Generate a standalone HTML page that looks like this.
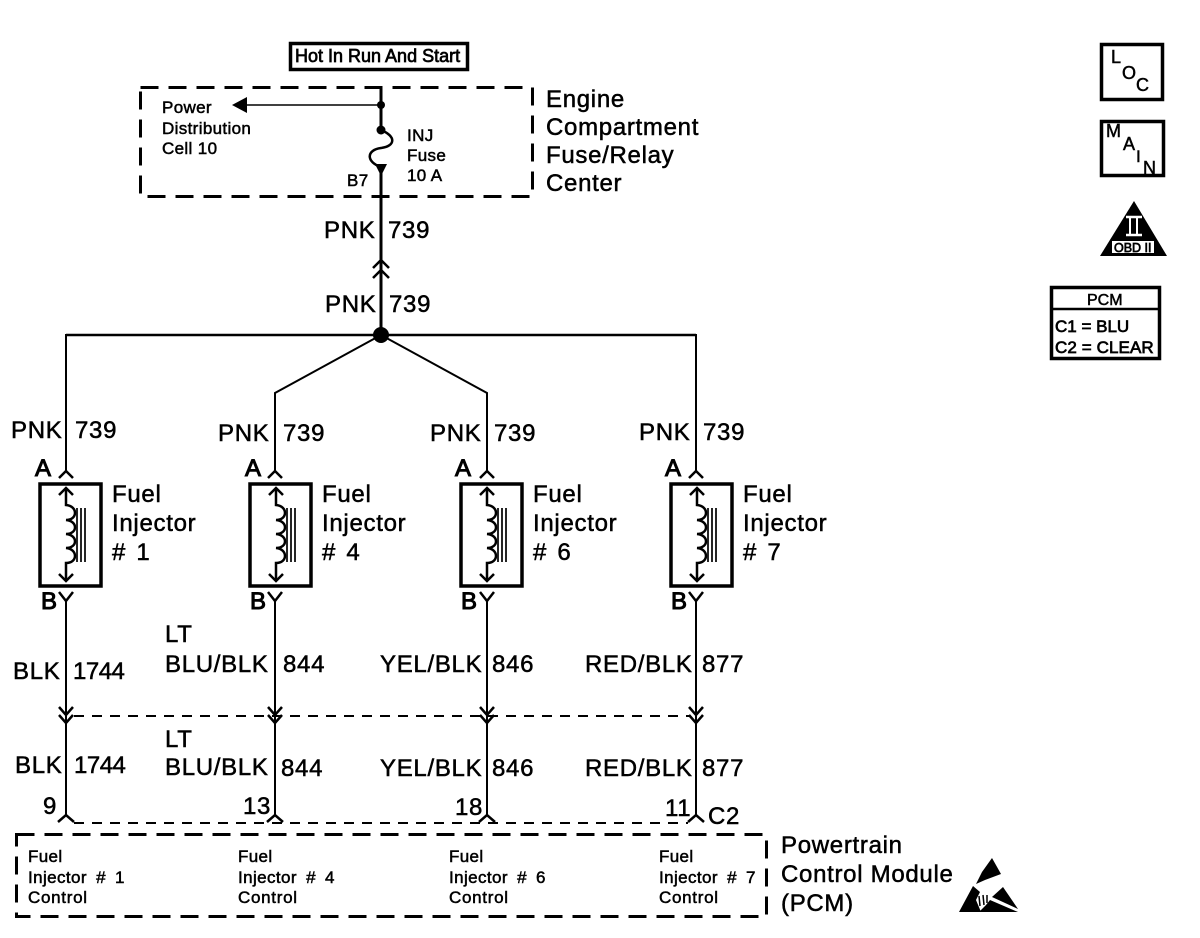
<!DOCTYPE html>
<html><head><meta charset="utf-8"><title>Fuel Injector Diagram</title>
<style>
html,body{margin:0;padding:0;background:#fff;width:1200px;height:938px;overflow:hidden}
svg{display:block}
text{font-family:"Liberation Sans",sans-serif;fill:#000;stroke:#000;stroke-width:.5}
.l{font-size:24px;letter-spacing:.7px}
.h{font-size:24px;letter-spacing:.7px;word-spacing:3px}
.n{font-size:24px;letter-spacing:-.5px}
.s{font-size:17px;letter-spacing:.35px}
.c{font-size:17px;letter-spacing:.7px}
.j{font-size:17px;letter-spacing:.4px;word-spacing:4px}
.b{font-size:24px;stroke-width:1}
.w{fill:none;stroke:#000;stroke-width:2}
.k{fill:none;stroke:#000;stroke-width:2.500}
.d{fill:none;stroke:#000;stroke-width:3;stroke-dasharray:18 10}
.e{fill:none;stroke:#000;stroke-width:2;stroke-dasharray:10 8}
</style></head><body>
<svg width="1200" height="938" viewBox="0 0 1200 938" xmlns="http://www.w3.org/2000/svg">
<defs>
<g id="inj">
<rect x="0" y="0" width="61" height="102" fill="none" stroke="#000" stroke-width="3.500"/>
<path class="k" d="M26 4V21C38 22 38 36 26 36C38 37 38 50 26 50C38 51 38 64 26 64C38 65 38 79 26 79V97"/>
<path class="k" d="M19 11L26 4L33 11M19 90L26 97L33 90"/>
<path fill="none" stroke="#000" stroke-width="1.700" d="M37 24V78M41 24V78M45 24V78"/>
</g>
</defs>

<!-- top block -->
<rect x="290.500" y="43.500" width="177" height="26" fill="none" stroke="#000" stroke-width="3.500"/>
<text x="295" y="62" style="font-size:18px;stroke-width:.7">Hot In Run And Start</text>
<rect x="140.500" y="87.500" width="392" height="109" class="d"/>
<path class="k" d="M381 87V130M381 166V335" style="stroke-width:3"/>
<path fill="none" stroke="#000" stroke-width="1.600" d="M381 105H245"/>
<path d="M232 105L247 97V113Z"/>
<circle cx="381" cy="105" r="4"/>
<circle cx="381" cy="130" r="4.500"/>
<path d="M375 164H387L381 176Z"/>
<path class="k" d="M381 130C396 136 396 146 381 148C366 150 366 162 381 167"/>
<text class="s" x="162" y="113">Power</text>
<text class="s" x="162" y="134">Distribution</text>
<text class="s" x="162" y="154">Cell 10</text>
<text class="s" x="407" y="141">INJ</text>
<text class="s" x="407" y="161">Fuse</text>
<text class="s" x="407" y="181">10 A</text>
<text class="s" x="347" y="186">B7</text>
<text class="l" x="546" y="107">Engine</text>
<text class="l" x="546" y="135">Compartment</text>
<text class="l" x="546" y="163">Fuse/Relay</text>
<text class="l" x="546" y="191">Center</text>
<text class="l" x="324" y="238">PNK</text><text class="l" x="388" y="238">739</text>
<text class="l" x="325" y="312">PNK</text><text class="l" x="389" y="312">739</text>
<path class="k" d="M373 268L381 260L389 268M373 278L381 270L389 278"/>

<!-- bus -->
<path class="w" d="M66 472V335H696V472" />
<path class="k" d="M66 335H696"/>
<path class="w" d="M381 335L275 393V472M381 335L487 393V472"/>
<circle cx="381" cy="335" r="8"/>
<text class="l" x="11" y="438">PNK</text><text class="l" x="75" y="438">739</text>
<text class="l" x="218" y="441">PNK</text><text class="l" x="283" y="441">739</text>
<text class="l" x="430" y="441">PNK</text><text class="l" x="494" y="441">739</text>
<text class="l" x="639" y="440">PNK</text><text class="l" x="703" y="440">739</text>

<!-- connectors A -->
<path class="k" d="M59 478L66 471L73 478M268 478L275 471L282 478M480 478L487 471L494 478M689 478L696 471L703 478"/>
<text class="b" x="35" y="476">A</text>
<text class="b" x="245" y="476">A</text>
<text class="b" x="455" y="476">A</text>
<text class="b" x="665" y="476">A</text>

<use href="#inj" x="40" y="484"/>
<use href="#inj" x="250" y="484"/>
<use href="#inj" x="461" y="484"/>
<use href="#inj" x="671" y="484"/>

<text class="l" x="112" y="502">Fuel</text><text class="l" x="112" y="531">Injector</text><text class="h" x="112" y="560"># 1</text>
<text class="l" x="322" y="502">Fuel</text><text class="l" x="322" y="531">Injector</text><text class="h" x="322" y="560"># 4</text>
<text class="l" x="533" y="502">Fuel</text><text class="l" x="533" y="531">Injector</text><text class="h" x="533" y="560"># 6</text>
<text class="l" x="743" y="502">Fuel</text><text class="l" x="743" y="531">Injector</text><text class="h" x="743" y="560"># 7</text>

<text class="b" x="41" y="609">B</text>
<text class="b" x="250" y="609">B</text>
<text class="b" x="461" y="609">B</text>
<text class="b" x="671" y="609">B</text>

<!-- wires -->
<path class="w" d="M66 600V816M275 600V816M487 600V816M696 600V816"/>
<path class="k" d="M59 592L66 601L73 592M268 592L275 601L282 592M480 592L487 601L494 592M689 592L696 601L703 592"/>
<path class="k" d="M59 707L66 715L73 707M59 715L66 723L73 715M268 707L275 715L282 707M268 715L275 723L282 715M480 707L487 715L494 707M480 715L487 723L494 715M689 707L696 715L703 707M689 715L696 723L703 715"/>
<path class="e" d="M74 716H690"/>
<path class="e" d="M74 823H688"/>
<path class="k" d="M58 822L66 815L74 822M267 822L275 815L283 822M479 822L487 815L495 822M688 822L696 815L704 822"/>

<text class="l" x="13" y="679">BLK</text><text class="n" x="73" y="679">1744</text>
<text class="l" x="165" y="642">LT</text><text class="l" x="165" y="672">BLU/BLK</text><text class="l" x="283" y="672">844</text>
<text class="l" x="380" y="672">YEL/BLK</text><text class="l" x="492" y="672">846</text>
<text class="l" x="585" y="672">RED/BLK</text><text class="l" x="702" y="672">877</text>

<text class="l" x="15" y="773">BLK</text><text class="n" x="74" y="773">1744</text>
<text class="l" x="165" y="747">LT</text><text class="l" x="165" y="775">BLU/BLK</text><text class="l" x="281" y="776">844</text>
<text class="l" x="380" y="776">YEL/BLK</text><text class="l" x="492" y="776">846</text>
<text class="l" x="585" y="776">RED/BLK</text><text class="l" x="702" y="776">877</text>

<text class="l" x="43" y="814">9</text>
<text class="l" x="243" y="814">13</text>
<text class="l" x="455" y="815">18</text>
<text class="l" x="665" y="816">11</text>
<text class="l" x="708" y="824">C2</text>

<!-- PCM box -->
<rect x="16.500" y="834.500" width="750" height="82" class="d"/>
<text class="s" x="28" y="862">Fuel</text><text class="j" x="28" y="883">Injector # 1</text><text class="c" x="28" y="903">Control</text>
<text class="s" x="238" y="862">Fuel</text><text class="j" x="238" y="883">Injector # 4</text><text class="c" x="238" y="903">Control</text>
<text class="s" x="449" y="862">Fuel</text><text class="j" x="449" y="883">Injector # 6</text><text class="c" x="449" y="903">Control</text>
<text class="s" x="659" y="862">Fuel</text><text class="j" x="659" y="883">Injector # 7</text><text class="c" x="659" y="903">Control</text>
<text class="l" x="781" y="853">Powertrain</text>
<text class="l" x="781" y="882">Control Module</text>
<text class="l" x="781" y="911">(PCM)</text>

<!-- ESD symbol -->
<path d="M992 858L1001 874L985 880L976 884L982 872Z"/>
<path d="M959 912L973 886L980 892L976 900L981 912Z"/>
<path d="M1003 887L1018 909L992 897Z"/>
<path d="M979 912L1018 912L990 900L986 905Z"/>
<path fill="none" stroke="#000" stroke-width="1.500" d="M979 896L980 906M983 895L984 905M987 895L987 903"/>

<!-- right icons -->
<rect x="1101.500" y="44.500" width="61" height="55" fill="none" stroke="#000" stroke-width="3.500"/>
<text x="1111" y="63" style="font-size:18px">L</text>
<text x="1122" y="79" style="font-size:18px">O</text>
<text x="1136" y="91" style="font-size:18px">C</text>
<rect x="1101.500" y="121.500" width="62" height="54" fill="none" stroke="#000" stroke-width="3.500"/>
<text x="1106" y="137" style="font-size:18px">M</text>
<text x="1123" y="150" style="font-size:18px">A</text>
<text x="1136" y="162" style="font-size:17px">I</text>
<text x="1143" y="174" style="font-size:18px">N</text>
<path d="M1134 201L1167 256H1100Z"/>
<rect x="1112" y="241" width="42" height="12" fill="#fff"/>
<text x="1114" y="252" style="font-size:12.500px;stroke-width:.7">OBD II</text>
<path fill="none" stroke="#fff" stroke-width="2.500" d="M1126 217H1142M1126 235H1142"/>
<path fill="none" stroke="#fff" stroke-width="2" d="M1130 217V235M1137 217V235"/>
<rect x="1051.500" y="287.500" width="108" height="71" fill="none" stroke="#000" stroke-width="3.500"/>
<path fill="none" stroke="#000" stroke-width="2.500" d="M1051 309H1160"/>
<text x="1087" y="305" style="font-size:16px">PCM</text>
<text x="1055" y="332" style="font-size:17px;stroke-width:.7">C1 = BLU</text>
<text x="1055" y="353" style="font-size:17px;stroke-width:.7;letter-spacing:.1px">C2 = CLEAR</text>
</svg>
</body></html>
